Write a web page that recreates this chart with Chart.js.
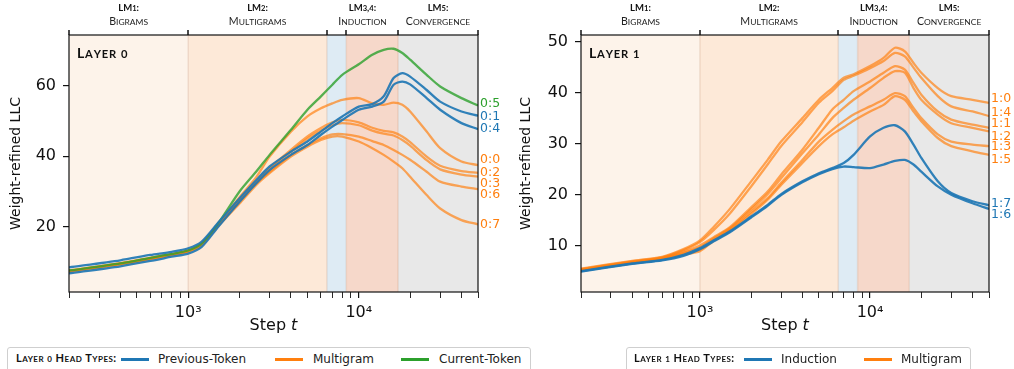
<!DOCTYPE html>
<html>
<head>
<meta charset="utf-8">
<script src="https://cdn.jsdelivr.net/npm/chart.js@4.4.1/dist/chart.umd.min.js"></script>
<style>
  body { margin: 0; background: #fff; }
  #wrap { position: relative; width: 1014px; height: 369px; overflow: hidden; }
  canvas { position: absolute; top: 0; }
  .legend { position: absolute; top: 347px; height: 34px; background: #fff; border: 1px solid #cfcfcf; border-radius: 3px;
            font-family: "DejaVu Sans"; font-size: 12px; color: #222; }
  .legend .t { position: absolute; top: 4px; line-height: 12px; font-family: Lato; font-weight: bold; font-variant: small-caps;
               font-size: 11px; letter-spacing: 0.5px; color: #111; white-space: nowrap; }
  .legend .t small { font-size: 8px; }
  .legend .sw { position: absolute; top: 9.5px; width: 28px; height: 3px; }
  .legend .lb { position: absolute; top: 4px; line-height: 14px; white-space: nowrap; }
</style>
</head>
<body>
<div id="wrap">
  <canvas id="layer0" width="507" height="369" style="left:0"></canvas>
  <canvas id="layer1" width="507" height="369" style="left:507px"></canvas>

  <div class="legend" style="left:7px;width:522px">
    <span class="t" style="left:8px">Layer <small>0</small> Head Types:</span>
    <span class="sw" style="left:113px;background:#1f77b4"></span><span class="lb" style="left:150px">Previous-Token</span>
    <span class="sw" style="left:267px;background:#ff7f0e"></span><span class="lb" style="left:305px">Multigram</span>
    <span class="sw" style="left:393px;background:#2ca02c"></span><span class="lb" style="left:431px">Current-Token</span>
  </div>
  <div class="legend" style="left:626px;width:343px">
    <span class="t" style="left:7px">Layer <small>1</small> Head Types:</span>
    <span class="sw" style="left:117px;background:#1f77b4"></span><span class="lb" style="left:154px">Induction</span>
    <span class="sw" style="left:237px;background:#ff7f0e"></span><span class="lb" style="left:274px">Multigram</span>
  </div>
</div>

<script>
// training steps where the curves were read
const steps = [200, 400, 600, 800, 1000, 1200, 1500, 2000, 2500, 3000, 4000, 5000, 6000, 7000, 8000,
               10000, 12000, 14000, 16000, 18000, 20000, 25000, 30000, 40000, 50000];

// Layer 0 heads
const h0_1 = [8.5, 10.5, 12.0, 12.9, 13.9, 15.8, 21.2, 28.1, 33.2, 37.1, 41.3, 44.2, 47.0, 49.4, 51.3, 54.1, 54.8, 57.0, 62.2, 63.6, 62.6, 58.8, 55.5, 52.7, 51.5];
const h0_4 = [6.8, 8.8, 10.3, 11.5, 12.4, 14.3, 20.0, 27.1, 32.3, 36.1, 40.4, 43.2, 46.1, 48.4, 50.3, 53.2, 54.1, 55.5, 60.3, 61.2, 60.4, 56.5, 53.2, 49.4, 47.7];
const h0_5 = [7.6, 9.6, 11.2, 12.3, 13.3, 15.3, 21.0, 30.0, 35.6, 40.4, 47.5, 53.2, 57.0, 60.3, 63.1, 66.1, 68.8, 70.2, 70.5, 69.3, 67.4, 63.1, 59.8, 56.5, 54.4];
const h0_0 = [7.6, 9.7, 11.2, 12.3, 13.3, 15.3, 20.8, 28.4, 34.0, 39.9, 47.0, 51.3, 53.6, 55.0, 56.0, 56.5, 55.0, 54.6, 55.2, 54.6, 52.7, 47.0, 42.3, 38.5, 37.5];
const h0_2 = [7.5, 9.6, 11.1, 12.2, 13.2, 15.2, 20.6, 27.6, 32.8, 36.6, 41.8, 45.6, 48.0, 49.6, 50.3, 49.6, 48.1, 47.2, 46.8, 45.6, 44.0, 39.9, 37.3, 35.8, 35.3];
const h0_3 = [7.3, 9.4, 10.9, 12.0, 13.0, 15.0, 20.4, 27.4, 32.5, 36.2, 41.3, 45.0, 47.3, 48.8, 49.4, 48.8, 47.3, 46.4, 45.9, 44.6, 43.0, 38.9, 36.3, 34.8, 34.2];
const h0_6 = [7.4, 9.5, 11.0, 12.1, 13.1, 15.1, 20.5, 27.1, 32.3, 35.6, 40.4, 43.2, 45.1, 46.2, 46.3, 45.6, 44.3, 43.2, 41.8, 40.4, 39.0, 35.6, 32.8, 31.4, 30.7];
const h0_7 = [7.2, 9.3, 10.8, 11.9, 12.9, 14.9, 20.2, 26.6, 31.8, 35.2, 39.9, 42.7, 44.6, 45.6, 45.6, 44.2, 42.3, 40.4, 38.5, 36.6, 34.2, 29.0, 25.2, 21.9, 20.7];

// Layer 1 heads
const h1_7 = [5.0, 6.5, 7.2, 8.2, 9.5, 11.0, 12.8, 15.7, 18.0, 20.1, 22.6, 24.2, 25.2, 26.2, 27.8, 31.4, 33.1, 33.6, 32.4, 29.8, 27.2, 22.6, 20.3, 18.7, 17.9];
const h1_6 = [4.9, 6.4, 7.1, 8.0, 9.3, 10.8, 12.6, 15.5, 17.8, 19.9, 22.4, 24.0, 25.0, 25.5, 25.4, 25.2, 25.9, 26.6, 26.8, 25.9, 24.5, 21.6, 20.0, 18.3, 17.2];
const h1_0 = [5.5, 7.0, 7.8, 9.3, 11.0, 13.6, 17.2, 22.6, 26.8, 30.4, 35.0, 38.6, 40.9, 42.9, 43.6, 45.2, 46.8, 48.8, 48.1, 45.8, 43.9, 40.9, 39.3, 38.6, 38.0];
const h1_4 = [5.4, 6.9, 7.7, 9.1, 10.7, 13.0, 16.3, 21.6, 25.9, 29.5, 34.2, 38.0, 40.3, 42.5, 43.3, 44.8, 46.2, 47.8, 47.1, 44.9, 42.9, 39.3, 37.3, 36.3, 35.4];
const h1_1 = [5.3, 6.8, 7.6, 8.8, 10.0, 11.6, 13.6, 17.5, 20.6, 23.9, 28.8, 33.1, 36.7, 38.6, 40.3, 42.2, 43.9, 45.2, 44.5, 41.9, 39.6, 36.3, 34.7, 33.7, 33.1];
const h1_2 = [5.2, 6.7, 7.5, 8.6, 9.6, 11.4, 13.4, 17.1, 20.1, 23.2, 28.1, 31.8, 35.0, 37.0, 38.6, 40.9, 42.9, 44.2, 43.9, 40.9, 38.6, 35.7, 34.0, 33.1, 32.4];
const h1_3 = [5.2, 6.6, 7.4, 8.4, 9.2, 11.1, 13.1, 16.6, 19.3, 22.3, 26.8, 30.4, 32.7, 34.4, 35.7, 37.3, 38.6, 39.9, 39.3, 37.0, 35.0, 31.8, 30.4, 29.8, 29.5];
const h1_5 = [5.1, 6.5, 7.3, 8.2, 8.9, 10.9, 12.9, 16.2, 19.0, 21.9, 26.2, 29.5, 31.8, 33.2, 34.5, 36.3, 37.6, 39.3, 38.6, 36.3, 34.4, 31.1, 29.5, 28.5, 27.8];

// where each end label sits (data units)
const labels0 = ['0:1', '0:4', '0:5', '0:0', '0:2', '0:3', '0:6', '0:7'];
const labelAt0 = [51.3, 47.7, 54.9, 39.1, 35.3, 32.3, 29.2, 20.7];
const labels1 = ['1:7', '1:6', '1:0', '1:4', '1:1', '1:2', '1:3', '1:5'];
const labelAt1 = [18.3, 16.0, 38.8, 36.1, 33.8, 31.4, 29.3, 26.8];

// developmental stages
const stageEdges = [200, 1000, 6500, 8450, 17000, 50000];
const stageTop = ['LM1:', 'LM2:', 'LM3,4:', 'LM5:'];
const stageSub = ['Bigrams', 'Multigrams', 'Induction', 'Convergence'];
const stageFills = ['#fdf3ea', '#fde9d8', '#deebf4', '#f6d8ca', '#e8e8e8'];
const stageSpanIdx = [[0, 1], [1, 2], [2, 4], [4, 5]];

const xTicks = [200, 300, 400, 500, 600, 700, 800, 900, 1000, 2000, 3000, 4000, 5000, 6000, 7000, 8000, 9000,
                10000, 20000, 30000, 40000, 50000];
const xTickText = { 1000: '10³', 10000: '10⁴' };
const yTicks0 = [20, 40, 60];
const yTicks1 = [10, 20, 30, 40, 50];

const BLUE = '#1f77b4', ORANGE = '#ff7f0e', GREEN = '#2ca02c';
const lineColor = { b: 'rgba(31,119,180,0.92)', o: 'rgba(255,127,14,0.68)', g: 'rgba(44,160,44,0.8)' };
const textColor = { b: BLUE, o: ORANGE, g: GREEN };

function pts(vals) { return steps.map((s, i) => ({ x: s, y: vals[i] })); }

function smallCaps(ctx, str, x, y, size, weight, align, color, spacing) {
  const parts = [];
  let w = 0;
  for (const ch of str) {
    const small = ch !== ch.toUpperCase() || /[0-9]/.test(ch);
    const s = small ? size * 0.8 : size;
    ctx.font = weight + ' ' + s + 'px Lato';
    const cw = ctx.measureText(small ? ch.toUpperCase() : ch).width + (spacing || 0);
    parts.push([small ? ch.toUpperCase() : ch, s, cw]);
    w += cw;
  }
  let cx = align === 'center' ? x - w / 2 : x;
  ctx.fillStyle = color;
  ctx.textAlign = 'left';
  ctx.textBaseline = 'alphabetic';
  for (const p of parts) {
    ctx.font = weight + ' ' + p[1] + 'px Lato';
    ctx.fillText(p[0], cx, y);
    cx += p[2];
  }
}

function panelPlugin(layerName, names, anchors, kinds) {
  return {
    id: 'panel',
    beforeDatasetsDraw(chart) {
      const { ctx, chartArea: a, scales: { x } } = chart;
      ctx.save();
      for (let i = 0; i < stageFills.length; i++) {
        const x0 = x.getPixelForValue(stageEdges[i]);
        const x1 = x.getPixelForValue(stageEdges[i + 1]);
        ctx.fillStyle = stageFills[i];
        ctx.fillRect(x0, a.top, x1 - x0, a.bottom - a.top);
      }
      ctx.lineWidth = 1.5;
      ctx.strokeStyle = 'rgba(190,140,110,0.22)';
      for (let i = 1; i < stageEdges.length - 1; i++) {
        const px = x.getPixelForValue(stageEdges[i]);
        ctx.beginPath(); ctx.moveTo(px, a.top); ctx.lineTo(px, a.bottom); ctx.stroke();
      }
      ctx.restore();
    },
    afterDraw(chart) {
      const { ctx, chartArea: a, scales: { x, y } } = chart;
      ctx.save();
      // frame
      ctx.strokeStyle = '#111';
      ctx.lineWidth = 1.2;
      ctx.strokeRect(a.left, a.top, a.right - a.left, a.bottom - a.top);
      // stage ticks on top
      ctx.lineWidth = 1.5;
      for (const e of stageEdges) {
        const px = Math.round(x.getPixelForValue(e));
        ctx.beginPath(); ctx.moveTo(px, a.top); ctx.lineTo(px, a.top - 5); ctx.stroke();
      }
      // stage labels
      stageSpanIdx.forEach((sp, i) => {
        const cx = (x.getPixelForValue(stageEdges[sp[0]]) + x.getPixelForValue(stageEdges[sp[1]])) / 2;
        smallCaps(ctx, stageTop[i], cx, 11, 9.5, 'bold', 'center', '#111');
        smallCaps(ctx, stageSub[i], cx, 25, 10.6, 'normal', 'center', '#222');
      });
      // panel name
      smallCaps(ctx, layerName, a.left + 8, 58, 14, 'bold', 'left', '#111', 0.8);
      // head labels at right end
      ctx.font = '12.5px "DejaVu Sans"';
      ctx.textAlign = 'left';
      ctx.textBaseline = 'middle';
      names.forEach((n, i) => {
        ctx.fillStyle = textColor[kinds[i]];
        ctx.fillText(n, a.right + 2, y.getPixelForValue(anchors[i]));
      });
      // x axis title with italic t
      ctx.fillStyle = '#111';
      ctx.textBaseline = 'alphabetic';
      ctx.font = '16px "DejaVu Sans"';
      const w1 = ctx.measureText('Step ').width;
      ctx.font = 'italic 16px "DejaVu Sans"';
      const w2 = ctx.measureText('t').width;
      const sx = (a.left + a.right) / 2 - (w1 + w2) / 2;
      ctx.font = '16px "DejaVu Sans"';
      ctx.fillText('Step ', sx, 330);
      ctx.font = 'italic 16px "DejaVu Sans"';
      ctx.fillText('t', sx + w1, 330);
      ctx.restore();
    }
  };
}

function makeChart(id, series, kinds, names, anchors, layerName, yMin, yMax, yTicks, yAxisW, padRight, titlePad) {
  const datasets = series.map((s, i) => ({
    data: pts(s),
    borderColor: lineColor[kinds[i]],
    borderWidth: 2.3,
    pointRadius: 0,
    tension: 0.25,
    fill: false
  }));
  return new Chart(document.getElementById(id), {
    type: 'line',
    data: { datasets },
    options: {
      responsive: false,
      animation: false,
      events: [],
      layout: { padding: { top: 35, right: padRight, left: 0, bottom: 0 } },
      plugins: { legend: { display: false }, tooltip: { enabled: false } },
      scales: {
        x: {
          type: 'logarithmic',
          min: 200, max: 50000,
          afterBuildTicks: (s) => { s.ticks = xTicks.map(v => ({ value: v })); },
          afterFit: (s) => { s.height = 77; },
          border: { display: false },
          grid: { drawOnChartArea: false, drawTicks: true, tickLength: 6, color: '#111',
                  lineWidth: (c) => (xTickText[c.tick && c.tick.value] ? 1.2 : 0.9) },
          ticks: { autoSkip: false, maxRotation: 0, padding: 5, color: '#111',
                   font: { family: 'DejaVu Sans', size: 16 },
                   callback: (v) => xTickText[v] || '' }
        },
        y: {
          min: yMin, max: yMax,
          afterBuildTicks: (s) => { s.ticks = yTicks.map(v => ({ value: v })); },
          afterFit: (s) => { s.width = yAxisW; },
          border: { display: false },
          grid: { drawOnChartArea: false, drawTicks: true, tickLength: 6, color: '#111', lineWidth: 1.2 },
          ticks: { padding: 7, color: '#111', font: { family: 'DejaVu Sans', size: 16 } },
          title: { display: true, text: 'Weight-refined LLC', color: '#111',
                   font: { family: 'DejaVu Sans', size: 14 }, padding: { top: titlePad, bottom: 0 } }
        }
      }
    },
    plugins: [panelPlugin(layerName, names, anchors, kinds)]
  });
}

const kinds0 = ['b', 'b', 'g', 'o', 'o', 'o', 'o', 'o'];
makeChart('layer0', [h0_1, h0_4, h0_5, h0_0, h0_2, h0_3, h0_6, h0_7], kinds0, labels0, labelAt0,
          'Layer 0', 1.5, 74.4, yTicks0, 69, 29, 7.6);

const kinds1 = ['b', 'b', 'o', 'o', 'o', 'o', 'o', 'o'];
makeChart('layer1', [h1_7, h1_6, h1_0, h1_4, h1_1, h1_2, h1_3, h1_5], kinds1, labels1, labelAt1,
          'Layer 1', 0.9, 51.3, yTicks1, 74, 25, 10.6);
</script>
</body>
</html>
